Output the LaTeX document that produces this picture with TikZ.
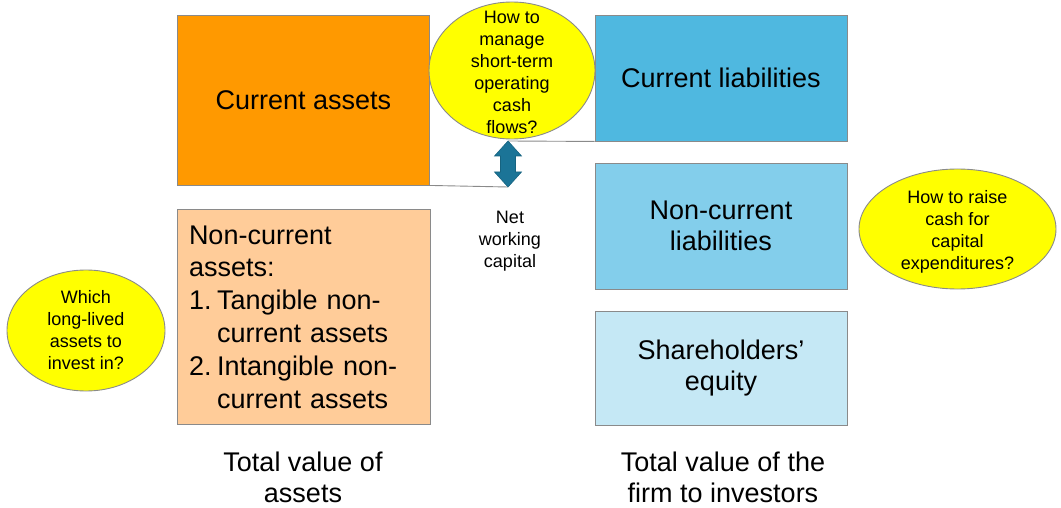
\documentclass[tikz,border=0pt]{standalone}
\usepackage{fontspec}
\setmainfont{Liberation Sans}
\usetikzlibrary{shapes.geometric}

\definecolor{assetorange}{HTML}{FF9900}
\definecolor{assetlight}{HTML}{FFCC99}
\definecolor{liabblue}{HTML}{4FB8E0}
\definecolor{liablight}{HTML}{83CEEB}
\definecolor{equityblue}{HTML}{C5E8F5}
\definecolor{questionyellow}{HTML}{FFFF00}
\definecolor{arrowteal}{HTML}{1B7497}
\definecolor{edgegray}{HTML}{8A8A8A}

\tikzset{
  balancebox/.style={draw=edgegray, line width=0.9pt, minimum width=252pt, inner sep=0pt,
                     align=center, font=\fontsize{27}{31.5}\selectfont},
  question/.style={ellipse, draw=edgegray, line width=0.9pt, fill=questionyellow, inner sep=0pt},
  questiontext/.style={align=center, font=\fontsize{18}{22}\selectfont},
  totallabel/.style={align=center, font=\fontsize{27}{30.5}\selectfont},
  connector/.style={draw=edgegray, line width=0.9pt},
}

\begin{document}
\begin{tikzpicture}[x=1pt, y=-1pt]

\useasboundingbox (0,0) rectangle (1061,508);

% assets side
\node (ca) at (303.5,100) [balancebox, fill=assetorange, minimum height=170pt] {Current assets};

\node (nca) at (303.5,317) [balancebox, fill=assetlight, minimum height=215pt,
                            text width=229pt, inner xsep=12pt, align=left, font=\fontsize{27}{32.8}\selectfont]
  {Non-current\\assets:\\\makebox[28pt][l]{1.}Tangible non-\\\hspace*{28pt}current assets\\
   \makebox[28pt][l]{2.}Intangible non-\\\hspace*{28pt}current assets};

% liabilities side
\node (cl) at (721,78) [balancebox, fill=liabblue, minimum height=126pt] {Current liabilities};

\node (ncl) at (721,226) [balancebox, fill=liablight, minimum height=126pt] {Non-current\\liabilities};

\node (se) at (721,368) [balancebox, fill=equityblue, minimum height=114pt] {Shareholders’\\equity};

% net working capital
\coordinate (nwctop) at (508,141);
\coordinate (nwcbot) at (508,187);

\draw [connector] (ca.south east) -- (nwcbot);
\draw [connector] (nwctop) -- (cl.south west);

\draw [fill=arrowteal, draw=arrowteal!85!black, line width=0.6pt]
  (nwctop) -- ++(13.5,15) -- ++(-6,0) -- ++(0,16) -- ++(6,0) -- (nwcbot)
           -- ++(-13.5,-15) -- ++(6,0) -- ++(0,-16) -- ++(-6,0) -- cycle;

\node (nwc) at (510,241) [questiontext] {Net\\working\\capital};

% questions
\node (qshort) at (512,70.5) [question, minimum width=166pt, minimum height=137pt,
  label={[questiontext, yshift=-1.5pt]center:How to\\manage\\short-term\\operating\\cash\\flows?}] {};

\node (qraise) at (957.5,229) [question, minimum width=197pt, minimum height=120pt,
  label={[questiontext, yshift=-2.5pt]center:How to raise\\cash for\\capital\\expenditures?}] {};

\node (qlong) at (86,330.5) [question, minimum width=158pt, minimum height=121pt,
  label={[questiontext]center:Which\\long-lived\\assets to\\invest in?}] {};

% totals
\node (totassets) at (303,477.5) [totallabel] {Total value of\\assets};

\node (totfirm) at (723,477.5) [totallabel] {Total value of the\\firm to investors};

\end{tikzpicture}
\end{document}
